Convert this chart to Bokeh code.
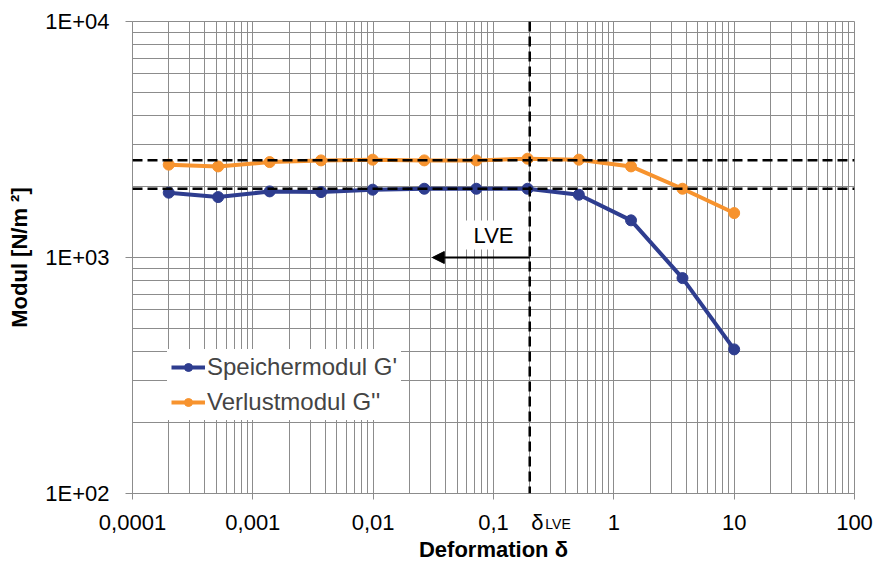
from bokeh.plotting import figure
from bokeh.models import (Range1d, FixedTicker, Span, Label, Arrow, NormalHead,
                          Legend, LegendItem, LogAxis)
from bokeh.embed import file_html
from bokeh.resources import INLINE

# ---- data ----
DEFORMATION = [0.0002, 0.000515, 0.00138, 0.00369, 0.0099, 0.0266,
               0.072, 0.192, 0.512, 1.39, 3.72, 10.0]
G_STORAGE = [1882, 1803, 1906, 1893, 1938, 1956, 1956, 1956, 1845, 1437, 818, 408]
G_LOSS = [2474, 2432, 2537, 2579, 2597, 2579, 2579, 2622, 2597, 2432, 1956, 1543]

DELTA_LVE = 0.2
G_STORAGE_REF = 1955
G_LOSS_REF = 2580
LVE_ARROW_END = 0.031
LVE_ARROW_Y = 1000

X_TICKS = [0.0001, 0.001, 0.01, 0.1, 1, 10, 100]
X_TICK_LABELS = ["0,0001", "0,001", "0,01", "0,1", "1", "10", "100"]
Y_TICKS = [100, 1000, 10000]
Y_TICK_LABELS = ["1E+02", "1E+03", "1E+04"]

SERIES_NAMES = ["Speichermodul G'", "Verlustmodul G''"]
X_TITLE = "Deformation δ"
Y_TITLE = "Modul [N/m ²]"
LVE_TEXT = "LVE"
DELTA_SYMBOL = "δ"

BLUE = "#2E3D8F"
ORANGE = "#F7932E"
GRID = "#8C8C8C"
FONT = "Liberation Sans"

# label anchor positions for the δ_LVE marker (next to the δ_LVE line)
DELTA_LABEL_X = DELTA_LVE * 1.16
LVE_SUB_X = DELTA_LVE * 1.72

x_minor = [k * 10.0 ** e for e in range(-4, 2) for k in range(2, 10)]
y_minor = [k * 10.0 ** e for e in range(2, 4) for k in range(2, 10)]

p = figure(x_axis_type="log", y_axis_type="log",
           x_range=Range1d(X_TICKS[0], X_TICKS[-1]),
           y_range=Range1d(Y_TICKS[0], Y_TICKS[-1]),
           frame_width=722, frame_height=472,
           min_border_left=132, min_border_right=22,
           min_border_top=21, min_border_bottom=72,
           output_backend="svg", toolbar_location=None,
           background_fill_color="white", border_fill_color="white")

p.outline_line_color = GRID

# x axis: decade labels + the δ marker; tick marks drawn as "minor" ticks at decades
xticks_all = X_TICKS + [DELTA_LABEL_X]
xlabels = dict(zip(X_TICKS, X_TICK_LABELS))
xlabels[DELTA_LABEL_X] = DELTA_SYMBOL
xa = p.xaxis[0]
xa.ticker = FixedTicker(ticks=xticks_all, minor_ticks=X_TICKS)
xa.major_label_overrides = xlabels
xa.major_tick_out = 0
xa.major_tick_in = 0
xa.minor_tick_out = 6
xa.minor_tick_in = 0
xa.minor_tick_line_color = GRID
xa.axis_line_color = GRID
xa.major_label_text_font = FONT
xa.major_label_text_font_size = "22px"
xa.major_label_text_color = "black"
xa.major_label_standoff = 10

# second (label-only) x axis carrying the "LVE" subscript and the axis title
xa2 = LogAxis(ticker=FixedTicker(ticks=[LVE_SUB_X], minor_ticks=[]),
              major_label_overrides={LVE_SUB_X: LVE_TEXT},
              axis_line_color=None, major_tick_line_color=None,
              minor_tick_line_color=None, major_tick_out=0, major_tick_in=0,
              major_label_text_font=FONT, major_label_text_font_size="14px",
              major_label_text_color="black", major_label_standoff=-22,
              axis_label=X_TITLE, axis_label_text_font=FONT,
              axis_label_text_font_size="22px", axis_label_text_font_style="bold",
              axis_label_text_color="black", axis_label_standoff=2)
p.add_layout(xa2, "below")

ya = p.yaxis[0]
ya.ticker = FixedTicker(ticks=Y_TICKS, minor_ticks=y_minor)
ya.major_label_overrides = dict(zip(Y_TICKS, Y_TICK_LABELS))
ya.axis_line_color = GRID
ya.major_tick_line_color = GRID
ya.minor_tick_line_color = None
ya.major_tick_in = 0
ya.major_tick_out = 7
ya.major_label_text_font = FONT
ya.major_label_text_font_size = "22px"
ya.major_label_text_color = "black"
ya.major_label_standoff = 16
ya.axis_label = Y_TITLE
ya.axis_label_text_font = FONT
ya.axis_label_text_font_size = "22px"
ya.axis_label_text_font_style = "bold"
ya.axis_label_text_color = "black"
ya.axis_label_standoff = 10

# grid
p.xgrid.ticker = FixedTicker(ticks=X_TICKS, minor_ticks=x_minor)
p.ygrid.ticker = FixedTicker(ticks=Y_TICKS, minor_ticks=y_minor)
for g in (p.xgrid, p.ygrid):
    g.grid_line_color = GRID
    g.grid_line_width = 1
    g.minor_grid_line_color = GRID
    g.minor_grid_line_width = 1

# series
lb = p.line(DEFORMATION, G_STORAGE, line_color=BLUE, line_width=4)
sb = p.scatter(DEFORMATION, G_STORAGE, size=11, fill_color=BLUE, line_color=BLUE)
lo = p.line(DEFORMATION, G_LOSS, line_color=ORANGE, line_width=4)
so = p.scatter(DEFORMATION, G_LOSS, size=11, fill_color=ORANGE, line_color=ORANGE)

# reference lines
for loc in (G_LOSS_REF, G_STORAGE_REF):
    p.add_layout(Span(location=loc, dimension="width", line_color="black",
                      line_width=2.5, line_dash="10 5"))
p.add_layout(Span(location=DELTA_LVE, dimension="height", line_color="black",
                  line_width=2.5, line_dash="10 5"))

# LVE arrow + label
p.add_layout(Arrow(end=NormalHead(size=12, fill_color="black", line_color="black"),
                   x_start=DELTA_LVE, y_start=LVE_ARROW_Y,
                   x_end=LVE_ARROW_END, y_end=LVE_ARROW_Y,
                   line_color="black", line_width=2))
p.add_layout(Label(x=0.1, y=LVE_ARROW_Y, y_offset=8, text=LVE_TEXT,
                   text_align="center", text_baseline="bottom",
                   text_font=FONT, text_font_size="22px", text_color="black",
                   background_fill_color="white", padding=(14, 2)))

# legend
legend = Legend(items=[LegendItem(label=SERIES_NAMES[0], renderers=[lb, sb]),
                       LegendItem(label=SERIES_NAMES[1], renderers=[lo, so])],
                location=(35, 73),
                background_fill_color="white", background_fill_alpha=1.0,
                border_line_alpha=0,
                label_text_font=FONT, label_text_font_size="24px",
                glyph_width=34, glyph_height=20, label_standoff=2,
                spacing=7, padding=4, margin=0, label_height=26)
p.add_layout(legend, "center")

open("out.html", "w").write(file_html(p, INLINE))
